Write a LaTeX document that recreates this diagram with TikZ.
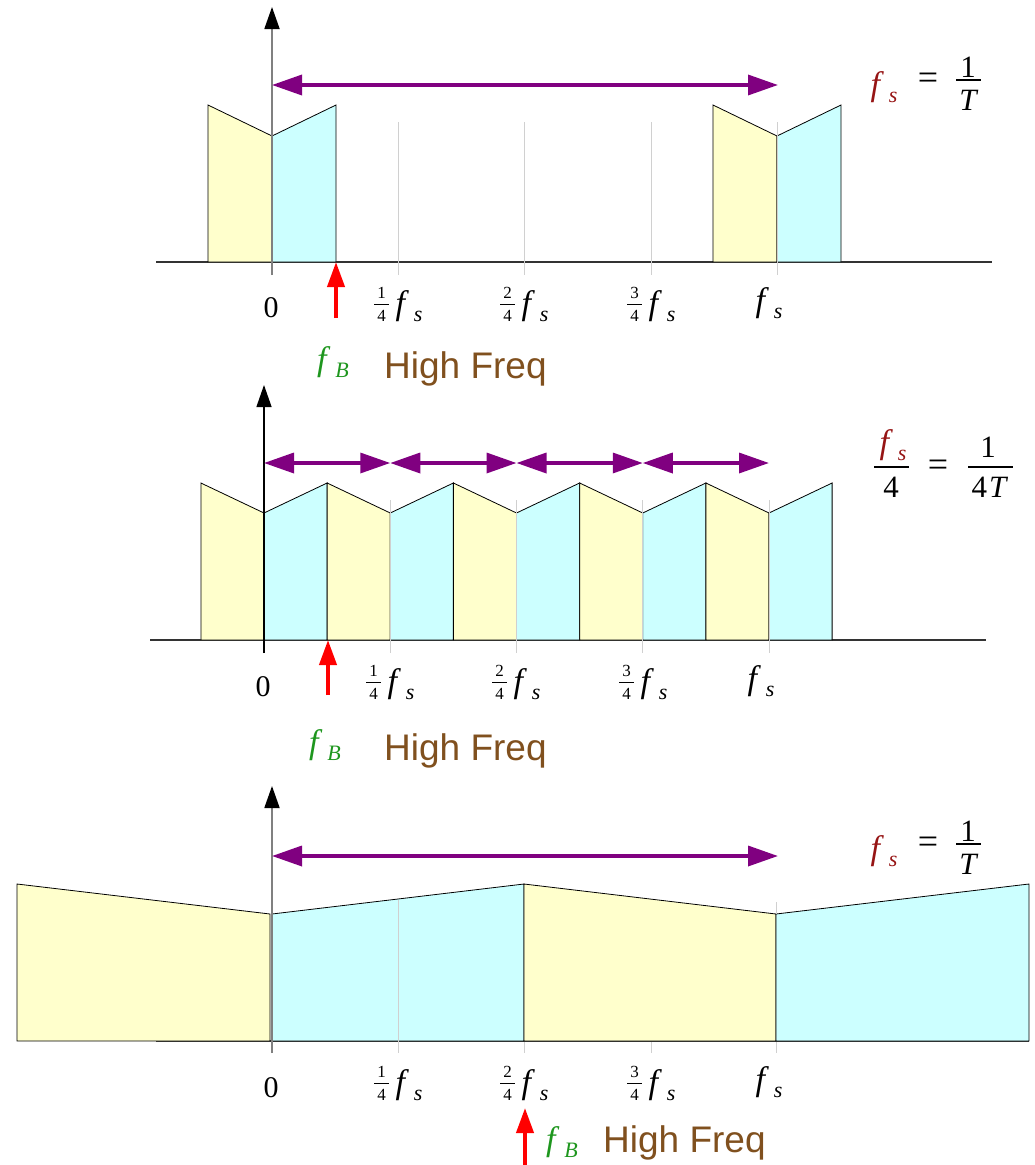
\documentclass[tikz,border=0pt]{standalone}
\usepackage{fontspec}
\setmainfont{Liberation Serif}
\newfontfamily\hfont{Liberation Sans}
\usetikzlibrary{arrows.meta}
\definecolor{yel}{HTML}{FFFFCC}
\definecolor{cya}{HTML}{CCFFFF}
\definecolor{pur}{HTML}{800080}
\definecolor{brn}{RGB}{128,80,30}
\definecolor{grn}{RGB}{30,150,30}
\definecolor{drd}{RGB}{150,20,20}
\definecolor{tickc}{HTML}{D0D0D0}
\definecolor{axg}{HTML}{808080}
\newcommand{\fsym}[2][black]{{\color{#1}\fontsize{34}{34}\selectfont\textit{f}\kern5pt\raisebox{-7pt}{\fontsize{22}{22}\selectfont\textit{#2}}}}
\newcommand{\qlab}[4]{%
  \node[frn] (#1n) at ({#2-16.5},{#3-11.5}) {#4};
  \draw[fbar] ({#2-24},{#3}) -- ({#2-9},{#3});
  \node[frn] (#1d) at ({#2-16.5},{#3+11.5}) {4};
  \node[lbl] (#1f) at ({#2+11},{#3+2}) {\fsym{s}};}
\begin{document}
\begin{tikzpicture}[x=1pt,y=-1pt,
  yelbox/.style={fill=yel,draw=black,line width=0.8pt},
  cyabox/.style={fill=cya,draw=black,line width=0.8pt},
  baseax/.style={draw=black!80,line width=1.3pt},
  tickln/.style={draw=tickc,line width=1pt},
  yaxg/.style={draw=axg,line width=1.8pt,-{Triangle[length=22pt,width=15pt,color=black]}},
  yaxk/.style={draw=black,line width=1.3pt,-{Triangle[length=22pt,width=15pt,color=black]}},
  parrow/.style={draw=pur,line width=3.5pt,{Triangle[length=30pt,width=20pt]}-{Triangle[length=30pt,width=20pt]}},
  rarrow/.style={draw=red,line width=4pt,-{Triangle[length=25pt,width=17pt]}},
  lbl/.style={inner sep=0pt,font=\fontsize{30}{30}\selectfont},
  big/.style={inner sep=0pt,font=\fontsize{31}{31}\selectfont},
  eq/.style={inner sep=0pt,font=\fontsize{36}{36}\selectfont},
  frn/.style={inner sep=0pt,font=\fontsize{17}{17}\selectfont},
  fbar/.style={draw=black,line width=0.9pt},
  bbar/.style={draw=black,line width=1.6pt},
  hilbl/.style={inner sep=0pt,anchor=base west,text=brn,font=\hfont\fontsize{37}{37}\selectfont}
]
\useasboundingbox (0,0) rectangle (1034,1165);

% ================= Panel 1 =================
\draw[baseax] (156,262) -- (992,262);
\filldraw[yelbox] (208,262) -- (208,105) -- (272,136) -- (272,262) -- cycle;
\filldraw[cyabox] (272,262) -- (272,136) -- (336,105) -- (336,262) -- cycle;
\filldraw[yelbox] (713,262) -- (713,105) -- (777,136) -- (777,262) -- cycle;
\filldraw[cyabox] (777,262) -- (777,136) -- (841,105) -- (841,262) -- cycle;
\foreach \x in {398,524,651,777} \draw[tickln] (\x,122) -- (\x,275);
\coordinate (a1b) at (272,275); \coordinate (a1t) at (272,7);
\draw[yaxg] (a1b) -- (a1t);
\coordinate (p1l) at (272,85); \coordinate (p1r) at (778,85);
\draw[parrow] (p1l) -- (p1r);
\coordinate (r1b) at (336,318); \coordinate (r1t) at (336,262);
\draw[rarrow] (r1b) -- (r1t);
\node[lbl] (z1) at (271,308) {0};
\qlab{q11}{398}{304}{1}
\qlab{q12}{524}{304}{2}
\qlab{q13}{651}{304}{3}
\node[lbl] (fs1) at (769,303) {\fsym{s}};
\node[lbl] (fb1) at (333,362) {\fsym[grn]{B}};
\node[hilbl] (hf1) at (384,378) {High Freq};
\node[lbl] (r1a) at (884,87) {\fsym[drd]{s}};
\node[eq] (r1e) at (928,81) {=};
\node[big] (r1n) at (968,67) {1};
\draw[bbar] (956,80) -- (981,80);
\node[big] (r1d) at (968,100) {\itshape T};

% ================= Panel 2 =================
\draw[baseax] (150,640) -- (986,640);
\foreach \k in {0,...,4} {
  \pgfmathsetmacro{\c}{264+126.25*\k}
  \filldraw[yelbox] ({\c-63.1},640) -- ({\c-63.1},483) -- (\c,513) -- (\c,640) -- cycle;
  \filldraw[cyabox] (\c,640) -- (\c,513) -- ({\c+63.1},483) -- ({\c+63.1},640) -- cycle;
}
\foreach \x in {390.25,516.5,642.75,769} \draw[tickln] (\x,500) -- (\x,653);
\coordinate (a2b) at (264,653); \coordinate (a2t) at (264,385);
\draw[yaxk] (a2b) -- (a2t);
\coordinate (p20) at (264,463); \coordinate (p21) at (390.25,463);
\coordinate (p22) at (516.5,463); \coordinate (p23) at (642.75,463);
\coordinate (p24) at (769,463);
\draw[parrow] (p20) -- (p21);
\draw[parrow] (p21) -- (p22);
\draw[parrow] (p22) -- (p23);
\draw[parrow] (p23) -- (p24);
\coordinate (r2b) at (328,695); \coordinate (r2t) at (328,640);
\draw[rarrow] (r2b) -- (r2t);
\node[lbl] (z2) at (263,687) {0};
\qlab{q21}{390}{682}{1}
\qlab{q22}{516}{682}{2}
\qlab{q23}{643}{682}{3}
\node[lbl] (fs2) at (761,681) {\fsym{s}};
\node[lbl] (fb2) at (325,745) {\fsym[grn]{B}};
\node[hilbl] (hf2) at (384,760) {High Freq};
\node[lbl] (r2a) at (893,445) {\fsym[drd]{s}};
\draw[bbar] (874,467) -- (909,467);
\node[big] (r2b4) at (891,487) {4};
\node[eq] (r2e) at (938,468) {=};
\node[big] (r2n) at (988,447) {1};
\draw[bbar] (968,467) -- (1013,467);
\node[big] (r2d) at (989,487) {4\kern2pt\itshape T};

% ================= Panel 3 =================
\draw[baseax] (156,1041) -- (1029,1041);
\filldraw[yelbox] (17,1041) -- (17,884) -- (270,914) -- (270,1041) -- cycle;
\filldraw[cyabox] (272,1041) -- (272,914) -- (524,884) -- (524,1041) -- cycle;
\filldraw[yelbox] (524,1041) -- (524,884) -- (776,914) -- (776,1041) -- cycle;
\filldraw[cyabox] (776,1041) -- (776,914) -- (1029,884) -- (1029,1041) -- cycle;
\draw[tickln] (398,900) -- (398,1053);
\draw[tickln] (524,1042) -- (524,1053);
\draw[tickln] (651,1042) -- (651,1053);
\draw[tickln] (776,902) -- (776,914);
\draw[tickln] (776,1042) -- (776,1053);
\coordinate (a3b) at (272,1053); \coordinate (a3t) at (272,786);
\draw[yaxg] (a3b) -- (a3t);
\coordinate (p3l) at (272,856); \coordinate (p3r) at (778,856);
\draw[parrow] (p3l) -- (p3r);
\coordinate (r3b) at (525,1165); \coordinate (r3t) at (525,1108);
\draw[rarrow] (r3b) -- (r3t);
\node[lbl] (z3) at (271,1088) {0};
\qlab{q31}{398}{1083}{1}
\qlab{q32}{524}{1083}{2}
\qlab{q33}{651}{1083}{3}
\node[lbl] (fs3) at (769,1082) {\fsym{s}};
\node[lbl] (fb3) at (562,1142) {\fsym[grn]{B}};
\node[hilbl] (hf3) at (603,1152) {High Freq};
\node[lbl] (r3a) at (884,851) {\fsym[drd]{s}};
\node[eq] (r3e) at (928,845) {=};
\node[big] (r3n) at (968,831) {1};
\draw[bbar] (956,844) -- (981,844);
\node[big] (r3d) at (968,864) {\itshape T};
\end{tikzpicture}
\end{document}
